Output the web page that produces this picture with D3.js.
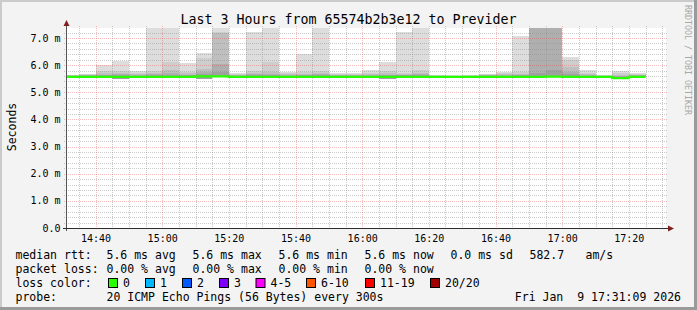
<!DOCTYPE html>
<html>
<head>
<meta charset="utf-8">
<script src="https://cdn.jsdelivr.net/npm/d3@7"></script>
<style>
  html, body { margin: 0; padding: 0; background: #f3f3f3; }
  svg { display: block; font-family: "DejaVu Sans Mono", monospace; }
</style>
</head>
<body>
<svg id="chart"></svg>
<script>
// 5 minute slots (start time of each step)
const slotStarts = [
  "14:30", "14:35", "14:40", "14:45", "14:50", "14:55", "15:00", "15:05", "15:10", "15:15",
  "15:20", "15:25", "15:30", "15:35", "15:40", "15:45", "15:50", "15:55", "16:00", "16:05",
  "16:10", "16:15", "16:20", "16:25", "16:30", "16:35", "16:40", "16:45", "16:50", "16:55",
  "17:00", "17:05", "17:10", "17:15", "17:20"
];

// median rtt (ms)
const medianRtt = [
  5.57, 5.57, 5.57, 5.57, 5.57, 5.57, 5.57, 5.57, 5.59, 5.59,
  5.57, 5.57, 5.57, 5.57, 5.57, 5.57, 5.57, 5.57, 5.57, 5.57,
  5.57, 5.57, 5.57, 5.57, 5.57, 5.57, 5.57, 5.57, 5.57, 5.58,
  5.57, 5.57, 5.57, 5.52, 5.57
];

// smoke: highest pings of each step (ms), outermost first
const pingHi1 = [
  5.65, 5.68, 6.00, 6.16, 5.80, 9.00, 9.00, 6.09, 6.45, 9.00,
  5.73, 7.21, 9.00, 5.76, 6.41, 9.00, 5.73, 5.70, 5.82, 6.11,
  7.22, 9.00, 5.63, 5.62, 5.64, 5.69, 5.75, 7.09, 9.00, 9.00,
  6.31, 5.82, 5.63, 5.78, 5.72
];
const pingHi2 = [
  5.63, 5.66, 5.78, 5.80, 5.70, 5.80, 6.13, 5.76, 6.27, 7.22,
  5.68, 5.80, 6.10, 5.70, 5.74, 5.80, 5.68, 5.66, 5.72, 5.80,
  5.72, 5.82, 5.62, 5.61, 5.62, 5.66, 5.70, 5.76, 9.00, 9.00,
  6.19, 5.72, 5.62, 5.70, 5.67
];
const pingHi3 = [
  5.62, 5.64, 5.70, 5.72, 5.66, 5.72, 5.82, 5.70, 5.86, 7.20,
  5.65, 5.72, 5.75, 5.66, 5.69, 5.72, 5.65, 5.64, 5.67, 5.70,
  5.67, 5.72, 5.61, 5.60, 5.61, 5.64, 5.66, 5.68, 9.00, 9.00,
  5.94, 5.67, 5.61, 5.65, 5.64
];
const pingHi4 = [
  5.61, 5.62, 5.65, 5.66, 5.63, 5.66, 5.70, 5.65, 5.76, 6.06,
  5.62, 5.66, 5.68, 5.63, 5.65, 5.66, 5.62, 5.62, 5.63, 5.65,
  5.64, 5.66, 5.60, 5.60, 5.60, 5.62, 5.63, 5.64, 9.00, 9.00,
  5.76, 5.63, 5.60, 5.60, 5.62
];
const pingHi5 = [
  5.60, 5.61, 5.62, 5.62, 5.61, 5.62, 5.64, 5.62, 5.66, 5.75,
  5.61, 5.62, 5.63, 5.61, 5.62, 5.62, 5.61, 5.61, 5.61, 5.62,
  5.62, 5.62, 5.59, 5.59, 5.59, 5.60, 5.61, 5.62, 5.72, 5.82,
  5.66, 5.61, 5.59, 5.56, 5.60
];
// lowest ping of each step (ms)
const pingLo = [
  5.55, 5.55, 5.55, 5.50, 5.55, 5.55, 5.55, 5.55, 5.50, 5.55,
  5.55, 5.55, 5.55, 5.55, 5.55, 5.55, 5.55, 5.55, 5.55, 5.50,
  5.55, 5.55, 5.55, 5.55, 5.55, 5.55, 5.55, 5.55, 5.55, 5.55,
  5.55, 5.55, 5.55, 5.48, 5.55
];

const yMajorTicks = [0, 1, 2, 3, 4, 5, 6, 7];
const lossLabels = ["0", "1", "2", "3", "4-5", "6-10", "11-19", "20/20"];
const lossColors = ["#26ff00", "#00b8ff", "#0059ff", "#7e00ff", "#ff00ff", "#ff5500", "#ff0000", "#a10000"];

const rttRow = ["median rtt:", "5.6 ms avg", "5.6 ms max", "5.6 ms min", "5.6 ms now", "0.0 ms sd", "582.7", "am/s"];
const lossRow = ["packet loss:", "0.00 % avg", "0.00 % max", "0.00 % min", "0.00 % now"];
const probeText = "20 ICMP Echo Pings (56 Bytes) every 300s";
const stampText = "Fri Jan  9 17:31:09 2026";
const titleText = "Last 3 Hours from 65574b2b3e12 to Previder";

// layout
const width = 697, height = 310;
const plot = { left: 66, right: 666, top: 28, bottom: 228 };
const parseTime = d3.timeParse("%Y-%m-%d %H:%M:%S");
const startTime = parseTime("2026-01-09 14:31:09");
const endTime = parseTime("2026-01-09 17:31:09");

const svg = d3.select("#chart").attr("width", width).attr("height", height);

// background + frame
svg.append("rect").attr("width", width).attr("height", height).attr("fill", "#f3f3f3");
svg.append("path").attr("d", `M1,${height} V1 H${width}`).attr("fill", "none")
  .attr("stroke", "#cbcbcb").attr("stroke-width", 2);
svg.append("path").attr("d", `M0,${height - 1.5} H${width - 1.5} V0`).attr("fill", "none")
  .attr("stroke", "#9a9a9a").attr("stroke-width", 3);

const x = d3.scaleTime().domain([startTime, endTime]).range([plot.left, plot.right]);
const y = d3.scaleLinear().domain([0, 7.37]).range([plot.bottom, plot.top]);

svg.append("rect")
  .attr("x", plot.left).attr("y", plot.top)
  .attr("width", plot.right - plot.left).attr("height", plot.bottom - plot.top)
  .attr("fill", "#ffffff");

svg.append("clipPath").attr("id", "clip").append("rect")
  .attr("x", plot.left).attr("y", plot.top)
  .attr("width", plot.right - plot.left).attr("height", plot.bottom - plot.top);

const slots = slotStarts.map((s, i) => {
  const t0 = parseTime("2026-01-09 " + s + ":00");
  return {
    t0: t0,
    t1: d3.timeMinute.offset(t0, 5),
    med: medianRtt[i],
    lo: pingLo[i],
    hi: [pingHi1[i], pingHi2[i], pingHi3[i], pingHi4[i], pingHi5[i]]
  };
});

// smoke layers, outer (light) to inner (dark)
const smokeColors = ["#dddddd", "#cecece", "#bfbfbf", "#afafaf", "#a0a0a0"];
const smoke = svg.append("g").attr("clip-path", "url(#clip)");
smokeColors.forEach((c, k) => {
  smoke.append("g").selectAll("rect")
    .data(slots)
    .join("rect")
    .attr("x", d => x(d.t0))
    .attr("width", d => x(d.t1) - x(d.t0))
    .attr("y", d => y(d.hi[k]))
    .attr("height", d => Math.max(0, y(d.lo) - y(d.hi[k])))
    .attr("fill", c)
    .attr("shape-rendering", "crispEdges");
});

// grid
const grid = svg.append("g").attr("shape-rendering", "crispEdges");
const minorX = d3.timeMinute.every(5).range(startTime, endTime);
const majorX = d3.timeMinute.every(20).range(startTime, endTime);
const minorY = d3.range(0, 7.37, 0.2).filter(v => Math.abs(v - Math.round(v)) > 0.01);
const minorCol = "rgba(140,140,140,0.45)";
const majorCol = "rgba(235,50,50,0.32)";

grid.selectAll(".vminor").data(minorX.filter(t => t.getMinutes() % 20 !== 0)).join("line")
  .attr("x1", d => Math.round(x(d)) + 0.5).attr("x2", d => Math.round(x(d)) + 0.5)
  .attr("y1", plot.top - 2).attr("y2", plot.bottom + 2)
  .attr("stroke", minorCol).attr("stroke-dasharray", "1,1");
grid.selectAll(".hminor").data(minorY).join("line")
  .attr("x1", plot.left - 2).attr("x2", plot.right + 2)
  .attr("y1", d => Math.round(y(d)) + 0.5).attr("y2", d => Math.round(y(d)) + 0.5)
  .attr("stroke", minorCol).attr("stroke-dasharray", "1,1");
grid.selectAll(".vmajor").data(majorX).join("line")
  .attr("x1", d => Math.round(x(d)) + 0.5).attr("x2", d => Math.round(x(d)) + 0.5)
  .attr("y1", plot.top - 2).attr("y2", plot.bottom + 2)
  .attr("stroke", majorCol).attr("stroke-dasharray", "1,1");
grid.selectAll(".hmajor").data(yMajorTicks.filter(v => v > 0)).join("line")
  .attr("x1", plot.left - 2).attr("x2", plot.right + 2)
  .attr("y1", d => Math.round(y(d)) + 0.5).attr("y2", d => Math.round(y(d)) + 0.5)
  .attr("stroke", majorCol).attr("stroke-dasharray", "1,1");

// median line
const medPts = slots.map(d => [d.t0, d.med]);
medPts.push([slots[slots.length - 1].t1, slots[slots.length - 1].med]);
svg.append("path")
  .attr("clip-path", "url(#clip)")
  .datum(medPts)
  .attr("d", d3.line().x(d => x(d[0])).y(d => y(d[1])).curve(d3.curveStepAfter))
  .attr("fill", "none")
  .attr("stroke", lossColors[0])
  .attr("stroke-width", 2.2);

// axes
const axisCol = "#2c2c2c";
const arrowCol = "#7f1f1f";
svg.append("line").attr("x1", plot.left + 0.5).attr("x2", plot.left + 0.5)
  .attr("y1", plot.bottom + 3).attr("y2", plot.top - 3)
  .attr("stroke", "#555").attr("shape-rendering", "crispEdges");
svg.append("line").attr("x1", plot.left - 3).attr("x2", plot.right + 3)
  .attr("y1", plot.bottom + 0.5).attr("y2", plot.bottom + 0.5)
  .attr("stroke", axisCol).attr("shape-rendering", "crispEdges");
svg.append("path")
  .attr("d", `M${plot.left + 0.5},${plot.top - 8} L${plot.left - 2.5},${plot.top - 2} L${plot.left + 3.5},${plot.top - 2} Z`)
  .attr("fill", arrowCol);
svg.append("path")
  .attr("d", `M${plot.right + 8},${plot.bottom + 0.5} L${plot.right + 2},${plot.bottom - 2.5} L${plot.right + 2},${plot.bottom + 3.5} Z`)
  .attr("fill", arrowCol);

// y tick labels
svg.append("g").selectAll("text").data(yMajorTicks).join("text")
  .attr("x", 60.5)
  .attr("y", d => y(d) + 3.6)
  .attr("text-anchor", "end")
  .attr("font-size", "10px")
  .attr("fill", "#000")
  .text(d => d === 0 ? "0.0" : d3.format(".1f")(d) + " m");

// x tick labels
const fmt = d3.timeFormat("%H:%M");
svg.append("g").selectAll("text").data(majorX).join("text")
  .attr("x", d => x(d) + 0.5)
  .attr("y", 241.8)
  .attr("text-anchor", "middle")
  .attr("font-size", "10px")
  .attr("fill", "#000")
  .text(d => fmt(d));

// title, y label, watermark
svg.append("text").attr("x", 348.5).attr("y", 24).attr("text-anchor", "middle")
  .attr("font-size", "13.3px").attr("fill", "#000").text(titleText);
svg.append("text").attr("transform", "translate(15.5,127) rotate(-90)")
  .attr("text-anchor", "middle").attr("font-size", "11.5px").attr("fill", "#000").text("Seconds");
svg.append("text").attr("transform", "translate(684.5,5) rotate(90)")
  .attr("font-size", "8.3px").attr("fill", "#a8a8a8").text("RRDTOOL / TOBI OETIKER");

// legend
const legend = svg.append("g").attr("font-size", "11.5px").attr("fill", "#000");
const keepSpaces = s => s.replace(/ {2}/g, " \u00a0");
const rttX = [16, 107, 193, 279, 365, 451, 530, 586];
const lossX = [16, 107, 193, 279, 365];
legend.selectAll(".rtt").data(rttRow).join("text")
  .attr("x", (d, i) => rttX[i] - 0.5).attr("y", 259).text(d => d);
legend.selectAll(".loss").data(lossRow).join("text")
  .attr("x", (d, i) => lossX[i] - 0.5).attr("y", 273).text(d => d);
legend.append("text").attr("x", 15.5).attr("y", 287).text("loss color:");
const boxX = [108.5, 145.5, 182.5, 219.5, 256, 306.5, 365.5, 430.5];
lossLabels.forEach((lab, i) => {
  legend.append("rect")
    .attr("x", boxX[i]).attr("y", 278.5).attr("width", 9).attr("height", 9)
    .attr("fill", lossColors[i]).attr("stroke", "#000").attr("stroke-width", 1);
  legend.append("text").attr("x", boxX[i] + 14.5).attr("y", 287).text(lab);
});
legend.append("text").attr("x", 15.5).attr("y", 300.5).text("probe:");
legend.append("text").attr("x", 106.5).attr("y", 300.5).text(probeText);
legend.append("text").attr("x", 681).attr("y", 300.5).attr("text-anchor", "end").text(keepSpaces(stampText));
</script>
</body>
</html>
